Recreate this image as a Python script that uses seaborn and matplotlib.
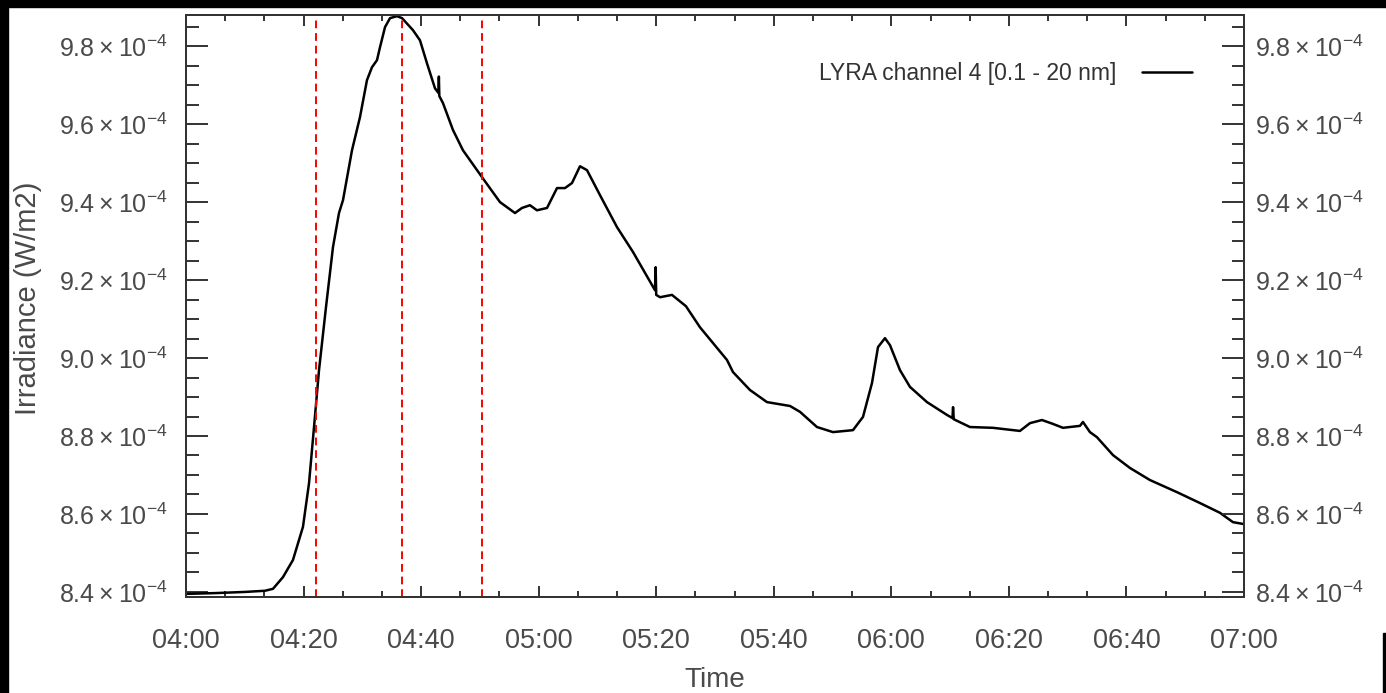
import numpy as np
import pandas as pd
import matplotlib
matplotlib.use('Agg')
import matplotlib.pyplot as plt
import matplotlib.dates as mdates
from matplotlib.ticker import FuncFormatter, MultipleLocator
from matplotlib.patches import Rectangle
import seaborn as sns

# LYRA channel 4 irradiance
# minutes after 04:00 and irradiance in units of 1e-4 W/m2
minutes = [0.0, 4.93, 10.04, 13.44, 14.80, 16.50, 18.20, 19.90, 20.93, 21.78,
           22.63, 23.82, 25.01, 26.03, 26.71, 28.24, 29.60, 30.79, 31.64, 32.49,
           33.00, 33.86, 34.71, 35.90, 36.75, 38.62, 39.81, 41.00, 42.36, 42.95,
           43.02, 43.10, 43.72, 45.42, 47.12, 50.36, 53.42, 55.97, 57.16, 58.52,
           59.71, 61.42, 63.12, 64.48, 65.67, 67.03, 68.22, 70.43, 73.32, 76.05,
           79.79, 79.90, 80.00, 80.64, 82.68, 85.06, 87.44, 92.04, 93.06, 95.95,
           98.84, 102.76, 104.46, 107.35, 110.07, 113.47, 115.18, 116.71, 117.73, 118.92,
           119.77, 121.47, 123.17, 126.06, 129.47, 130.40, 130.50, 130.62, 133.38, 137.29,
           141.88, 143.59, 145.63, 147.50, 149.20, 152.09, 152.60, 153.79, 154.98, 157.71,
           160.60, 164.00, 168.59, 172.51, 175.91, 178.12, 180.0]
irradiance = [8.395, 8.397, 8.400, 8.403, 8.408, 8.438, 8.482, 8.567, 8.679, 8.823,
              8.969, 9.131, 9.285, 9.372, 9.405, 9.533, 9.618, 9.713, 9.746, 9.764,
              9.797, 9.849, 9.872, 9.877, 9.872, 9.841, 9.815, 9.756, 9.692, 9.680,
              9.722, 9.672, 9.654, 9.585, 9.533, 9.464, 9.400, 9.372, 9.385, 9.392,
              9.379, 9.385, 9.436, 9.436, 9.449, 9.492, 9.482, 9.418, 9.336, 9.272,
              9.174, 9.233, 9.162, 9.156, 9.162, 9.133, 9.079, 8.995, 8.964, 8.918,
              8.887, 8.877, 8.862, 8.823, 8.810, 8.815, 8.849, 8.936, 9.028, 9.051,
              9.033, 8.969, 8.926, 8.887, 8.854, 8.846, 8.874, 8.843, 8.823, 8.821,
              8.813, 8.833, 8.841, 8.831, 8.821, 8.826, 8.836, 8.810, 8.797, 8.751,
              8.718, 8.687, 8.656, 8.628, 8.603, 8.579, 8.574]
marker_minutes = [22.1, 36.7, 50.4]
legend_label = 'LYRA channel 4 [0.1 - 20 nm]'

t0 = pd.Timestamp('2011-01-01 04:00')
df = pd.DataFrame({
    'Time': t0 + pd.to_timedelta(minutes, unit='min'),
    'Irradiance': np.array(irradiance) * 1e-4,
})
markers = t0 + pd.to_timedelta(marker_minutes, unit='min')

sns.set_style('ticks')
plt.rcParams['font.family'] = ['Liberation Sans', 'DejaVu Sans']
plt.rcParams['mathtext.fontset'] = 'custom'
plt.rcParams['mathtext.rm'] = 'Liberation Sans'

txt = '#4a4a4a'
fig = plt.figure(figsize=(13.86, 6.93), dpi=100)
ax = fig.add_axes([186 / 1386, 1 - 597 / 693, 1058 / 1386, 582 / 693])

sns.lineplot(data=df, x='Time', y='Irradiance', ax=ax, color='black',
             linewidth=1.8, estimator=None, sort=False, label=legend_label)
for m in markers:
    ax.axvline(m, color='red', linestyle=(0, (4, 2.5)), linewidth=1.4)

ax.set_xlim(t0, t0 + pd.Timedelta(hours=3))
ax.set_ylim(8.387e-4, 9.88e-4)
ax.xaxis.set_major_locator(mdates.MinuteLocator(byminute=[0, 20, 40]))
minor_x = t0 + pd.to_timedelta(np.arange(0, 181, 20 / 3), unit='min')
ax.set_xticks(minor_x, minor=True)
ax.xaxis.set_major_formatter(mdates.DateFormatter('%H:%M'))

yfmt = FuncFormatter(lambda v, p: r'$\mathregular{%.1f\times10^{-4}}$' % (v * 1e4))
ax.yaxis.set_major_locator(MultipleLocator(0.2e-4))
ax.yaxis.set_minor_locator(MultipleLocator(0.05e-4))
ax.yaxis.set_major_formatter(yfmt)

ax.set_xlabel('')
ax.set_ylabel('')
ax.tick_params(axis='x', which='major', direction='in', length=8, width=1.4,
               top=True, bottom=True, labelsize=19.5, labelcolor=txt, pad=22, color='#333333')
ax.tick_params(axis='x', which='minor', direction='in', length=4.5, width=1.4,
               top=True, bottom=True, color='#333333')
ax.tick_params(axis='y', which='major', direction='in', length=16, width=1.4,
               left=True, right=False, labelsize=18, labelcolor=txt, pad=13, color='#333333')
ax.tick_params(axis='y', which='minor', direction='in', length=9, width=1.4,
               left=True, right=False, color='#333333')

ax2 = ax.twinx()
ax2.set_ylim(ax.get_ylim())
ax2.yaxis.set_major_locator(MultipleLocator(0.2e-4))
ax2.yaxis.set_minor_locator(MultipleLocator(0.05e-4))
ax2.yaxis.set_major_formatter(yfmt)
ax2.tick_params(axis='y', which='major', direction='in', length=16, width=1.4,
                labelsize=18, labelcolor=txt, pad=8, color='#333333')
ax2.tick_params(axis='y', which='minor', direction='in', length=9, width=1.4, color='#333333')

for a in (ax, ax2):
    for s in a.spines.values():
        s.set_visible(True)
        s.set_linewidth(1.4)
        s.set_color('#333333')

leg = ax.legend(loc='center right', bbox_to_anchor=(0.951, 0.900), frameon=False,
                markerfirst=False, fontsize=16.5, handlelength=2.2, handletextpad=1.1,
                borderpad=0, borderaxespad=0)
for t in leg.get_texts():
    t.set_color('#333333')

fig.text(715 / 1386, 1 - 680 / 693, 'Time', ha='center', va='center', fontsize=20, color=txt)
fig.text(28 / 1386, 1 - 298 / 693, 'Irradiance (W/m2)', ha='center', va='center',
         rotation=90, fontsize=21, color=txt)

# black frame pieces from the cropped source image
fig.patches.append(Rectangle((0, 1 - 7 / 693), 1, 7 / 693, transform=fig.transFigure,
                             color='black', zorder=10))
fig.patches.append(Rectangle((0, 0), 8 / 1386, 1, transform=fig.transFigure,
                             color='black', zorder=10))
fig.patches.append(Rectangle((1383 / 1386, 0), 3 / 1386, 60 / 693, transform=fig.transFigure,
                             color='black', zorder=10))

fig.savefig('out.png', dpi=100, facecolor='white')
